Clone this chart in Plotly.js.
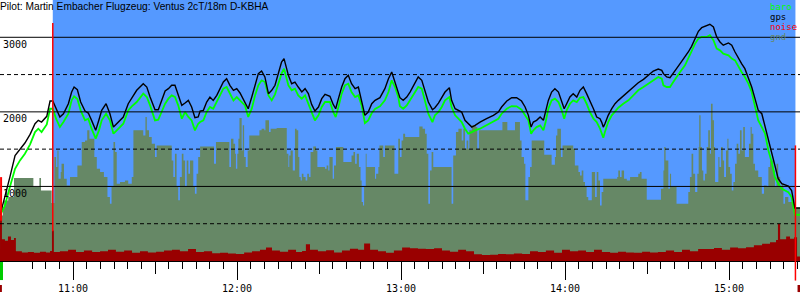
<!DOCTYPE html>
<html><head><meta charset="utf-8">
<script src="https://cdn.plot.ly/plotly-3.0.1.min.js"></script>
<style>html,body{margin:0;padding:0;background:#fff}#chart{width:800px;height:300px}</style>
</head><body><div id="chart"></div>
<script>
// time axis: minutes after 10:00
const hourTickVals = [60, 120, 180, 240, 300];
const hourTickText = ["11:00", "12:00", "13:00", "14:00", "15:00"];
const halfHourTickVals = [30, 90, 150, 210, 270, 330];
const altTickVals = [1000, 2000, 3000];
const altTickText = ["1000", "2000", "3000"];
const gridSolid = [1000, 2000, 3000];
const gridDashed = [500, 1500, 2500];
const takeoffMin = 52.6;
const landingMin = 324.3;

const trackTime = [
33.3,35.1,36.9,38.8,40.6,42.4,44.3,46.1,47.3,48.5,50.4,51.6,52.6,53.8,55.2,56.5,58.3,59.5,60.4,61.6,62.8,64.4,65.6,66.8,68.3,69.5,70.5,72.1,73.5,74.8,76.0,78.4,80.2,81.5,83.3,85.7,87.0,88.2,90.0,91.2,92.4,93.7,94.9,96.1,97.3,98.5,99.8,101.0,102.2,103.4,104.6,105.8,
106.5,107.7,108.9,110.1,111.3,112.6,113.8,115.0,116.2,117.4,118.7,119.9,121.1,122.9,124.1,125.4,126.6,127.8,129.0,130.2,131.5,132.7,133.9,135.1,136.3,137.2,137.9,138.8,140.0,141.2,142.4,143.7,144.9,146.1,147.3,148.5,149.8,151.0,152.2,154.0,155.2,156.1,157.1,158.3,159.5,160.7,161.9,163.2,164.4,165.6,166.8,168.0,169.3,170.5,172.3,174.1,175.4,176.6,177.8,179.0,
179.6,180.8,182.1,183.3,185.1,186.3,187.6,188.8,190.0,191.5,192.4,193.7,194.9,196.1,197.7,198.5,199.8,201.0,202.2,203.4,204.6,205.9,207.1,208.9,211.3,213.8,215.6,216.8,218.7,220.5,222.3,224.1,225.4,226.6,227.6,228.4,229.6,230.9,232.1,232.9,233.9,235.1,236.3,237.6,238.8,239.7,240.6,241.8,243.0,244.3,245.5,246.7,247.9,249.1,250.4,251.6,
252.8,253.4,254.0,254.6,255.8,257.1,258.3,259.5,261.3,263.2,265.0,266.8,268.7,270.5,272.3,274.1,275.4,276.0,277.2,278.4,279.6,280.8,282.1,283.9,285.1,286.3,287.6,288.8,290.0,291.8,293.0,294.3,295.5,296.7,297.9,299.8,301.0,302.2,303.4,304.6,305.8,307.1,308.3,309.5,310.7,312.0,313.2,314.4,315.6,316.8,318.0,319.3,320.5,321.7,322.9,323.5,324.1,326.0
];
const gpsAlt = [
611,856,1125,1414,1492,1582,1698,1841,1886,1863,1940,2145,2145,2042,1931,1975,2109,2266,2333,2297,2132,2011,1984,1886,1752,1895,2020,2109,1975,1796,1841,1931,2109,2190,2289,2378,2333,2199,2029,2029,2163,2280,2311,2356,2356,2221,2087,2118,2154,2065,1922,1931,
2011,2020,2132,2199,2154,2221,2311,2400,2445,2356,2289,2311,2253,2132,2042,2199,2369,2512,2548,2468,2244,2289,2356,2512,2669,2714,2602,2490,2378,2400,2333,2266,2311,2244,2100,2011,2065,2177,2235,2208,2100,2042,2177,2333,2445,2490,2378,2311,2333,2154,1953,1998,2109,2154,2190,2311,2445,2535,2400,2235,
2190,2154,2199,2266,2387,2468,2423,2266,2132,2029,2056,2118,2199,2266,2324,2154,2042,2020,1998,1886,1841,1796,1819,1863,1908,1953,1998,2065,2145,2190,2190,2145,2065,1953,1796,1863,1886,1931,1886,2020,2154,2266,2311,2266,2132,2042,2109,2199,2244,2199,2289,2333,2244,2154,2042,1931,
1908,1863,1796,1841,1953,2042,2109,2154,2212,2275,2333,2391,2436,2490,2548,2575,2557,2512,2468,2459,2512,2579,2647,2736,2803,2879,2982,3080,3129,3161,3174,3138,3004,2937,2893,2924,2893,2803,2714,2647,2579,2445,2333,2177,2020,1975,1796,1617,1439,1259,1103,1036,1022,1004,946,812,709,709
];
const baroAlt = [
611,745,991,1237,1349,1439,1564,1729,1774,1729,1832,2042,2042,1908,1796,1863,1975,2154,2208,2172,2020,1886,1908,1774,1640,1752,1886,1975,1886,1707,1752,1841,2020,2074,2132,2244,2199,2087,1886,1895,1998,2109,2177,2221,2199,2087,1908,1998,1931,1886,1752,1841,
1863,1886,1998,2065,2042,2132,2221,2311,2333,2244,2154,2199,2154,2087,1931,2042,2221,2356,2423,2400,2221,2154,2235,2378,2512,2579,2490,2356,2289,2311,2221,2177,2221,2109,1975,1886,1953,2065,2132,2132,1998,1931,2065,2244,2356,2378,2266,2199,2221,2087,1850,1886,1984,2038,2074,2154,2266,2423,2333,2199,
2074,2042,2087,2154,2266,2333,2311,2154,1975,1863,1953,1998,2065,2154,2199,2065,1953,1908,1863,1774,1707,1729,1752,1774,1819,1863,1908,1975,2042,2078,2074,2029,1953,1886,1707,1752,1796,1819,1752,1863,2042,2154,2177,2132,2020,1908,2020,2109,2154,2132,2190,2199,2109,1998,1908,1863,
1774,1707,1653,1729,1863,1953,1998,2056,2109,2154,2221,2289,2333,2378,2423,2468,2445,2356,2333,2333,2400,2468,2535,2624,2714,2803,2915,2982,3004,3004,3027,2960,2848,2825,2781,2758,2714,2691,2602,2535,2468,2378,2266,2087,1886,1796,1707,1483,1327,1125,1036,969,946,924,857,723,620,620
];

const gndTime = [
33.3,34.3,34.8,36.3,38.4,45.5,47.7,48.3,52.2,53.2,53.8,54.3,54.7,55.5,55.8,56.7,57.7,58.9,61.6,63.2,64.4,65.2,66.0,67.8,68.7,69.9,71.3,72.6,73.5,74.1,74.8,75.4,76.0,77.2,79.0,80.2,81.5,82.1,85.7,86.5,87.0,87.8,88.8,90.0,90.6,96.1,96.7,97.3,97.9,98.5,99.1,99.8,100.4,101.0,101.6,102.2,102.8,104.0,104.6,105.2,105.8,
106.5,111.6,112.3,117.2,117.8,118.7,119.3,119.6,120.1,120.5,120.9,121.7,122.1,122.6,123.2,123.9,124.5,128.2,129.0,130.0,130.4,131.7,132.3,134.5,138.2,138.8,139.1,139.6,140.4,141.2,141.8,142.4,142.8,143.3,143.7,144.3,145.1,145.7,146.3,146.9,147.9,148.9,149.4,152.2,152.8,153.4,153.8,155.0,155.5,156.2,158.9,161.9,162.6,163.2,163.8,164.6,165.2,165.6,166.1,166.5,167.1,167.4,170.5,170.9,171.7,172.1,173.5,174.1,177.6,179.0,
179.6,180.2,180.8,181.5,186.7,187.9,188.8,189.4,190.0,190.6,191.2,191.8,198.5,199.1,200.1,201.0,202.2,202.8,203.4,204.0,204.6,205.0,205.9,207.4,207.9,208.5,217.1,218.9,221.7,223.5,224.1,225.0,225.5,226.6,227.2,227.8,232.4,235.1,236.3,236.7,237.2,238.5,239.1,243.0,243.6,244.9,245.5,246.1,246.7,247.3,247.9,248.5,249.8,251.0,251.6,252.2,
252.8,253.4,254.0,259.1,259.5,260.1,260.7,261.6,262.6,263.8,266.8,267.4,268.0,269.9,275.1,276.0,276.3,276.8,277.8,278.4,278.8,280.8,285.1,285.7,286.3,286.9,287.6,288.4,288.9,289.1,289.6,290.1,290.6,291.2,291.8,292.4,293.0,293.4,294.0,294.5,294.9,296.1,296.5,297.1,297.7,298.2,298.9,299.4,299.8,300.4,301.0,301.6,302.2,302.8,303.4,304.0,304.6,305.2,305.8,307.3,307.9,308.3,308.9,309.5,310.7,312.0,312.8,313.8,314.4,315.0,316.2,316.8,317.4,318.0,318.7,319.3,319.9,320.5,321.7,323.9,326.0
];
const gndAlt = [
611,723,812,857,1112,991,1112,946,777,1394,1259,1483,1103,1192,1304,1103,1013,1125,1282,1595,1617,1752,1640,1394,1237,1192,1125,857,767,991,1595,1461,1036,1058,1081,1036,1125,1752,1684,1931,1752,1662,1573,1394,1550,1349,1125,1439,991,813,1125,1439,1349,991,1349,1170,1349,991,902,1170,1394,
1537,1304,1595,1259,1640,1573,1439,1237,1439,1640,1917,1483,1819,1394,1259,1483,1684,1752,1774,1752,1886,1729,1774,1783,1439,1259,1416,1483,1215,1774,1752,1394,1125,1081,1170,1125,1081,1170,1125,1461,1537,1483,1259,1237,1282,1215,1394,1103,1282,1528,1327,1416,1461,1304,1439,1259,1081,790,745,991,1439,1259,1103,1170,1259,1550,1394,1550,1170,1640,
1394,1617,1707,1662,1805,1774,1707,1439,767,1215,1461,1259,767,1416,1729,1774,1617,1774,1506,1617,1506,1752,1819,1796,1506,1752,1863,1752,1863,1617,1394,1304,813,1125,1259,1617,1425,1291,1394,1684,1774,1394,1550,1506,1282,1192,1148,1215,1058,991,857,813,1192,857,1192,1081,
745,924,1103,1125,1215,1125,1215,1103,1081,1125,1170,1192,1103,821,969,1215,1528,1349,969,1170,991,767,924,1125,1439,1170,924,1170,1528,1953,1528,1215,1081,1170,1528,1752,1439,2109,1886,1528,1058,1394,1259,1528,1349,1125,1483,1640,1259,1170,946,1058,1304,1573,1439,1752,1483,1796,1394,1573,1796,1707,1304,1215,1125,902,1013,991,1259,1349,1215,991,1304,1125,991,1036,767,857,790,723,723
];

const noiseTime = [
33.3,34.0,35.1,36.2,37.3,38.4,39.1,41.3,43.5,45.7,47.9,50.1,51.6,52.3,53.0,55.2,58.2,61.1,64.0,67.0,69.9,72.8,75.7,78.7,81.6,84.5,87.4,90.4,93.3,96.2,99.1,102.1,105.0,107.9,110.9,113.8,116.7,119.6,122.6,125.5,128.4,130.6,132.8,135.7,138.7,141.6,143.8,145.2,146.7,149.6,152.6,155.5,158.4,161.3,164.3,166.5,168.7,171.6,174.5,177.4,180.4,183.3,186.2,189.1,192.1,195.0,197.9,200.9,203.8,206.7,209.6,212.6,215.5,218.4,221.3,224.3,227.2,230.1,233.0,236.0,238.9,241.8,244.8,247.7,250.6,253.5,256.5,259.4,262.3,265.2,268.2,271.1,274.0,276.9,279.9,282.8,285.7,288.7,291.6,294.5,297.4,300.4,303.3,306.2,309.1,312.1,315.0,317.2,317.9,318.7,320.9,322.3,323.8,324.9,326.0
];
const noiseLevel = [
600,290,270,330,280,310,130,115,120,110,125,115,135,410,120,130,150,120,140,120,130,150,125,140,110,130,115,125,140,150,130,160,120,130,105,110,100,95,115,130,150,180,140,125,150,120,135,225,150,130,145,115,140,165,150,235,150,130,110,140,180,170,165,160,170,140,125,150,130,90,80,85,95,90,100,95,130,120,140,110,150,130,140,120,150,120,110,125,115,110,125,115,120,140,120,150,130,160,160,175,150,180,170,185,210,230,250,280,500,290,330,300,320,60,60
];

const legendItems = ["baro", "gps", "noise", "gnd"];
const legendColors = ["#00ff00", "#000000", "#ff0000", "#668866"];
const titleText = "Pilot: Martin Embacher Flugzeug: Ventus 2cT/18m D-KBHA";

const xRange = [33.29, 325.97];
const mono = "DejaVu Sans Mono";

const traces = [
  {x: gndTime, y: gndAlt, type: 'scatter', mode: 'lines', line: {shape: 'hv', width: 0, color: '#668866'}, fill: 'tozeroy', fillcolor: '#668866', hoverinfo: 'skip'},
  {x: trackTime, y: baroAlt, type: 'scatter', mode: 'lines', line: {color: '#00ff00', width: 1.8}, hoverinfo: 'skip'},
  {x: trackTime, y: gpsAlt, type: 'scatter', mode: 'lines', line: {color: '#000000', width: 1.4}, hoverinfo: 'skip'},
  {x: noiseTime, y: noiseLevel, xaxis: 'x2', type: 'scatter', mode: 'lines', line: {shape: 'hv', width: 0, color: '#990000'}, fill: 'tozeroy', fillcolor: '#990000', hoverinfo: 'skip'}
];

const shapes = [
  {type: 'rect', layer: 'below', xref: 'x', yref: 'paper', x0: takeoffMin, x1: landingMin, y0: 0, y1: 1, fillcolor: '#5599ff', line: {width: 0}}
];
gridSolid.forEach(v => shapes.push({type: 'line', layer: 'above', xref: 'paper', yref: 'y', x0: 0, x1: 1, y0: v, y1: v, line: {color: '#000', width: 1}}));
gridDashed.forEach(v => shapes.push({type: 'line', layer: 'above', xref: 'paper', yref: 'y', x0: 0, x1: 1, y0: v, y1: v, line: {color: '#000', width: 1, dash: '4px,3px'}}));
// takeoff / landing / engine markers
shapes.push({type: 'line', layer: 'above', xref: 'x', yref: 'y', x0: xRange[0] + 0.4, x1: xRange[0] + 0.4, y0: 540, y1: 1125, line: {color: '#ff0000', width: 2}});
shapes.push({type: 'line', layer: 'above', xref: 'x', yref: 'y', x0: takeoffMin, x1: takeoffMin, y0: 400, y1: 3190, line: {color: '#ff0000', width: 1.5}});
shapes.push({type: 'line', layer: 'above', xref: 'x', yref: 'y', x0: landingMin, x1: landingMin, y0: 0, y1: 1550, line: {color: '#ff0000', width: 1.5}});
shapes.push({type: 'line', layer: 'above', xref: 'x', yref: 'paper', x0: landingMin, x1: landingMin, y0: -0.075, y1: 0, line: {color: '#ff0000', width: 1.5}});
shapes.push({type: 'rect', layer: 'above', xref: 'x', yref: 'paper', x0: xRange[0], x1: xRange[0] + 1.1, y0: -0.073, y1: -0.004, fillcolor: '#00cc00', line: {width: 0}});
shapes.push({type: 'rect', layer: 'above', xref: 'x', yref: 'paper', x0: xRange[0], x1: xRange[0] + 0.7, y0: -0.119, y1: -0.092, fillcolor: '#990000', line: {width: 0}});
shapes.push({type: 'rect', layer: 'above', xref: 'x', yref: 'paper', x0: xRange[1] - 0.9, x1: xRange[1], y0: -0.119, y1: -0.092, fillcolor: '#990000', line: {width: 0}});

const annotations = [
  {xref: 'paper', yref: 'paper', x: 0, y: 0.977, xanchor: 'left', yanchor: 'middle', xshift: -2, showarrow: false, text: titleText, font: {family: 'Liberation Sans, Arial', size: 10.2, color: '#000'}}
];
const legendY = [0.974, 0.935, 0.896, 0.857];
legendItems.forEach((t, i) => annotations.push({xref: 'paper', yref: 'paper', x: 0.9625, y: legendY[i], xanchor: 'left', yanchor: 'middle', xshift: -1, borderpad: 0, showarrow: false, text: t, font: {family: mono, size: 9, color: legendColors[i]}}));

const layout = {
  width: 800, height: 300,
  margin: {l: 0, r: 0, t: 0, b: 39, pad: 0},
  paper_bgcolor: '#ffffff', plot_bgcolor: '#ffffff',
  showlegend: false,
  xaxis: {
    range: xRange, tickmode: 'array', tickvals: hourTickVals, ticktext: hourTickText,
    ticks: 'outside', ticklen: 18, tickwidth: 1, tickcolor: '#000',
    showline: true, linecolor: '#000', linewidth: 1, showgrid: false, zeroline: false,
    tickfont: {family: mono, size: 10, color: '#000'},
    minor: {tickmode: 'linear', tick0: 0, dtick: 5, ticks: 'outside', ticklen: 7, tickwidth: 1, tickcolor: '#000', showgrid: false},
    fixedrange: true
  },
  xaxis2: {
    overlaying: 'x', anchor: 'y', side: 'bottom', range: xRange,
    tickmode: 'array', tickvals: halfHourTickVals, ticks: 'outside', ticklen: 12, tickwidth: 1, tickcolor: '#000',
    showticklabels: false, showline: false, showgrid: false, zeroline: false, fixedrange: true
  },
  yaxis: {
    range: [0, 3500], tickmode: 'array', tickvals: altTickVals, ticktext: altTickText,
    ticks: '', ticklabelposition: 'inside bottom', showgrid: false, zeroline: false, showline: false,
    tickfont: {family: mono, size: 10, color: '#000'}, fixedrange: true
  },
  shapes: shapes,
  annotations: annotations
};

Plotly.newPlot('chart', traces, layout, {displayModeBar: false, staticPlot: true});
</script>
</body></html>
